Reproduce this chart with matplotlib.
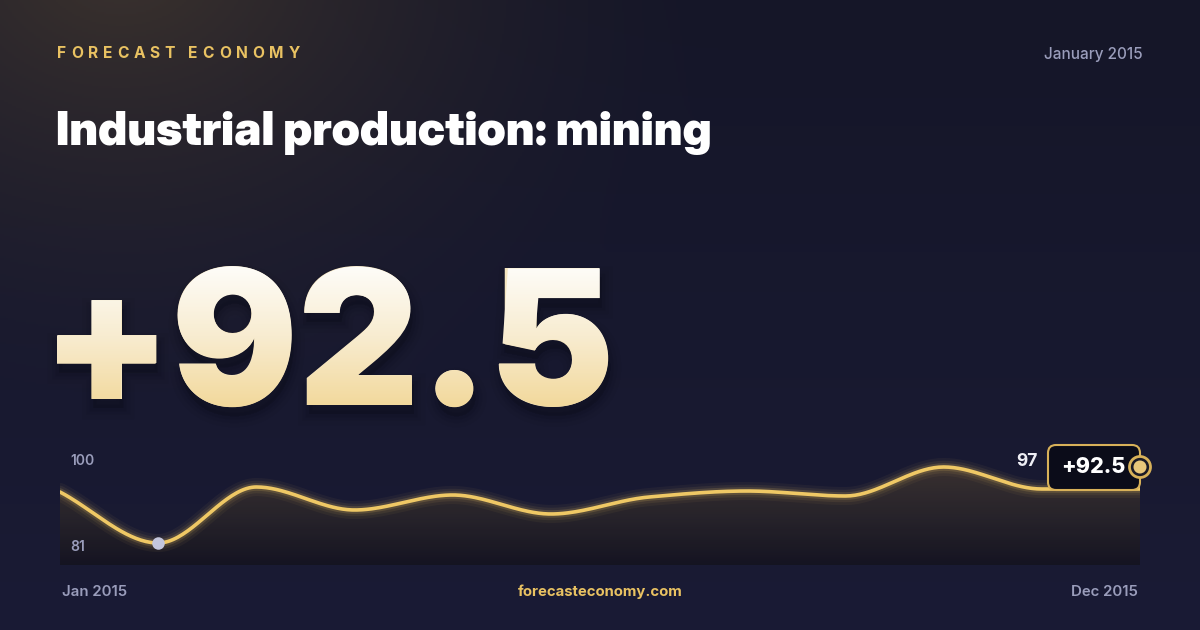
import numpy as np
import matplotlib
matplotlib.use("Agg")
import matplotlib.pyplot as plt
from matplotlib import font_manager as fm
from matplotlib.font_manager import FontProperties
from matplotlib.textpath import TextPath, TextToPath
from matplotlib.patches import PathPatch, FancyBboxPatch, Circle, Polygon
from matplotlib.transforms import Affine2D
from matplotlib.colors import LinearSegmentedColormap

W, H = 1200, 630
PX = 72 / 100  # points per pixel at dpi 100

# data
months = ["Jan 2015", "Feb 2015", "Mar 2015", "Apr 2015", "May 2015", "Jun 2015",
          "Jul 2015", "Aug 2015", "Sep 2015", "Oct 2015", "Nov 2015", "Dec 2015"]
values = [93.75, 81.0, 95.0, 89.25, 93.0, 88.25, 92.5, 94.0, 92.75, 100.0, 94.5, 94.5]
headline = "+92.5"
badge_label = "+92.5"
side_label = "97"
brand = "FORECAST ECONOMY"
date_label = "January 2015"
title = "Industrial production: mining"
site = "forecasteconomy.com"

GOLD = "#e9c262"
GREY = "#9a9dbb"


def font_file(name, weight):
    for f in fm.fontManager.ttflist:
        if f.name == name and f.weight == weight and f.style == "normal":
            return f.fname
    return None


def fprop(name, weight, size=None):
    path = font_file(name, weight)
    p = FontProperties(fname=path) if path else FontProperties(family="Inter", weight=weight)
    if size:
        p.set_size(size)
    return p


def monotone(xs, ys, n=40):
    # monotone cubic (Fritsch-Carlson) so the line passes smoothly through each month
    xs = np.asarray(xs, float)
    ys = np.asarray(ys, float)
    h = np.diff(xs)
    d = np.diff(ys) / h
    m = np.zeros_like(ys)
    m[0], m[-1] = d[0], d[-1]
    for i in range(1, len(ys) - 1):
        if d[i - 1] * d[i] > 0:
            w1 = 2 * h[i] + h[i - 1]
            w2 = h[i] + 2 * h[i - 1]
            m[i] = (w1 + w2) / (w1 / d[i - 1] + w2 / d[i])
    out_x, out_y = [], []
    for i in range(len(xs) - 1):
        t = np.linspace(0, 1, n, endpoint=False)
        h00 = 2 * t**3 - 3 * t**2 + 1
        h10 = t**3 - 2 * t**2 + t
        h01 = -2 * t**3 + 3 * t**2
        h11 = t**3 - t**2
        out_x.append(xs[i] + t * h[i])
        out_y.append(h00 * ys[i] + h10 * h[i] * m[i] + h01 * ys[i + 1] + h11 * h[i] * m[i + 1])
    out_x.append([xs[-1]])
    out_y.append([ys[-1]])
    return np.concatenate(out_x), np.concatenate(out_y)


fig = plt.figure(figsize=(12, 6.3), dpi=100)
bg = fig.add_axes([0, 0, 1, 1])
bg.set_xlim(0, W)
bg.set_ylim(H, 0)
bg.axis("off")

# background: navy with a warm glow in the top-left corner
yy, xx = np.mgrid[0:H:2, 0:W:2]
base_top = np.array([0x15, 0x16, 0x28]) / 255
base_bot = np.array([0x1a, 0x1b, 0x35]) / 255
warm = np.array([0x3c, 0x33, 0x2e]) / 255
tv = (yy / H)[..., None]
img = base_top * (1 - tv) + base_bot * tv
r = np.sqrt((xx - 120) ** 2 + ((yy + 40) * 1.3) ** 2)
g = np.clip(1 - r / 620, 0, 1)[..., None] ** 1.6
img = img * (1 - g) + warm * g
bg.imshow(img, extent=[0, W, H, 0], aspect="auto", zorder=0)

# header: letter-spaced brand line
p_brand = fprop("Inter", 700, 11.2)
t2p = TextToPath()
cx = 57
for ch in brand:
    bg.text(cx, 58, ch, color=GOLD, fontproperties=p_brand, ha="left", va="baseline", zorder=5)
    w, _, _ = t2p.get_text_width_height_descent(ch, p_brand, ismath=False)
    cx += w / PX + 4.8
bg.text(1143, 59, date_label, color=GREY, fontproperties=fprop("Inter", 500, 11),
        ha="right", va="baseline", zorder=5)
bg.text(56, 145, title, color="white", fontproperties=fprop("Inter Display", 900, 33.6),
        ha="left", va="baseline", zorder=5)

# big headline number: real text with a gradient laid over its outline
big_name, big_w = "Inter", 900
probe = TextPath((0, 0), headline, size=100, prop=fprop(big_name, big_w))
pe_ = probe.get_extents()
size_px = 100 * 141 / pe_.height
x0 = 57 - pe_.x0 * size_px / 100
base_y = 405
bg.text(x0, base_y, headline, color="#f6e6c0", fontproperties=fprop(big_name, big_w, size_px * PX),
        ha="left", va="baseline", zorder=6.5)
big = TextPath((0, 0), headline, size=size_px, prop=fprop(big_name, big_w))
big = big.transformed(Affine2D().scale(1, -1).translate(x0, base_y))
for k, a in [(16, 0.04), (10, 0.06), (5, 0.08)]:
    bg.add_patch(PathPatch(big.transformed(Affine2D().translate(2, 9)), fc="#05060d",
                           ec="#05060d", lw=k, alpha=a, zorder=6))
be = big.get_extents()
grad_cmap = LinearSegmentedColormap.from_list("g", ["#fefdfa", "#f8ecd0", "#f2d89a"])
gimg = bg.imshow(np.linspace(0, 1, 256)[:, None], cmap=grad_cmap,
                 extent=[be.x0 - 2, be.x1 + 2, be.y1 + 2, be.y0 - 2], aspect="auto", zorder=7)
clip = PathPatch(big, fc="none", ec="none", transform=bg.transData)
bg.add_patch(clip)
gimg.set_clip_path(clip)

# sparkline
ch_ax = fig.add_axes([60 / W, (H - 565) / H, 1080 / W, 125 / H])
ch_ax.set_xlim(0, len(values) - 1)
ylo, yhi = 75.5, 106.75
ch_ax.set_ylim(ylo, yhi)
ch_ax.axis("off")
ch_ax.patch.set_alpha(0)

xs = np.arange(len(values))
sx, sy = monotone(xs, values)
fill_cmap = LinearSegmentedColormap.from_list(
    "f", [(0.08, 0.075, 0.12, 0.85), (0.17, 0.15, 0.16, 0.8), (0.25, 0.21, 0.19, 0.85)])
fimg = ch_ax.imshow(np.linspace(0, 1, 256)[:, None], cmap=fill_cmap, origin="lower",
                    extent=[0, len(values) - 1, ylo, max(values)], aspect="auto", zorder=1)
poly = Polygon(np.column_stack([np.r_[sx, sx[-1], sx[0]], np.r_[sy, ylo, ylo]]),
               closed=True, fc="none", ec="none", transform=ch_ax.transData)
ch_ax.add_patch(poly)
fimg.set_clip_path(poly)

for lw, a in [(13, 0.05), (9, 0.08), (5.5, 0.16)]:
    ch_ax.plot(sx, sy, color=GOLD, lw=lw, alpha=a, solid_capstyle="round", zorder=2)
ch_ax.plot(sx, sy, color="#efc865", lw=2.6, solid_capstyle="round", zorder=3)

imin = int(np.argmin(values))
ch_ax.plot(xs[imin], values[imin], "o", ms=9, color="#c3c6dd", mec="none", zorder=4)

# overlay for labels and the end badge
fg = fig.add_axes([0, 0, 1, 1])
fg.set_xlim(0, W)
fg.set_ylim(H, 0)
fg.axis("off")
fg.patch.set_alpha(0)

p_small = fprop("Inter", 600, 10)
fg.text(70, 461, f"{max(values):.0f}", color=GREY, fontproperties=p_small, ha="left", va="center")
fg.text(70, 547, f"{min(values):.0f}", color=GREY, fontproperties=p_small, ha="left", va="center")
fg.text(1027, 462, side_label, color="#eeeef4", fontproperties=fprop("Inter", 700, 12.5),
        ha="center", va="center")

fg.add_patch(FancyBboxPatch((1048, 445), 92, 45, boxstyle="round,pad=0,rounding_size=8",
                            fc="#0b0c19", ec="#d8b159", lw=1.5, zorder=8))
fg.text(1093, 467, badge_label, color="white", fontproperties=fprop("Inter", 800, 15.5),
        ha="center", va="center", zorder=9)
fg.add_patch(Circle((1140, 467), 10.5, fc="#1c1b26", ec="#d8b159", lw=2, zorder=9))
fg.add_patch(Circle((1140, 467), 6.5, fc="#e9c77a", ec="none", zorder=10))

# footer
p_foot = fprop("Inter", 600, 10.8)
fg.text(62, 592, months[0], color=GREY, fontproperties=p_foot, ha="left", va="center")
fg.text(1138, 592, months[-1], color=GREY, fontproperties=p_foot, ha="right", va="center")
fg.text(600, 592, site, color=GOLD, fontproperties=fprop("Inter", 700, 10.7), ha="center", va="center")

fig.savefig("out.png", dpi=100)
